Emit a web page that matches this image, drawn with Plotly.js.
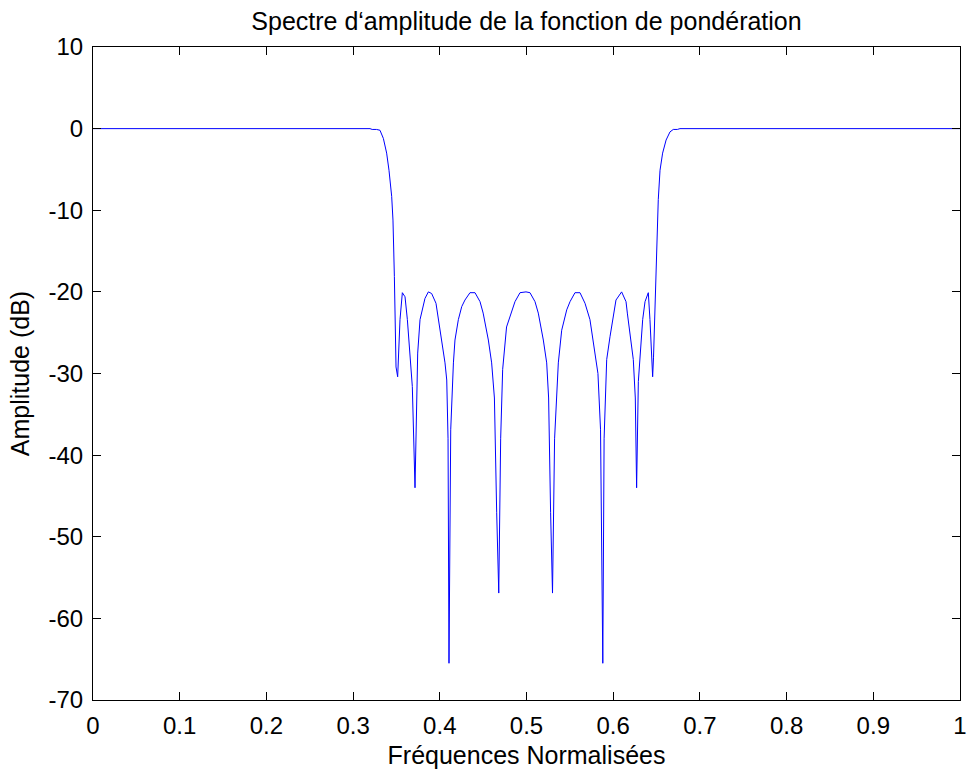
<!DOCTYPE html>
<html>
<head>
<meta charset="utf-8">
<script src="https://cdn.plot.ly/plotly-3.0.1.min.js"></script>
<style>html,body{margin:0;padding:0;background:#fff;}</style>
</head>
<body>
<div id="chart" style="width:969px;height:773px;"></div>
<script>
// Normalised frequency (x) and amplitude in dB (y)
const freq = [
  0, 0.3195, 0.322, 0.327, 0.331, 0.3349, 0.3387, 0.3414, 0.3445, 0.346, 0.3476, 0.3495,
  0.3514, 0.3541, 0.3568, 0.3599, 0.3626, 0.3656, 0.3683, 0.3714, 0.3745, 0.3772, 0.381,
  0.3829, 0.3868, 0.3906, 0.3956, 0.400, 0.406, 0.408, 0.4095, 0.4106, 0.4126, 0.4157,
  0.4175, 0.4214, 0.4253, 0.429, 0.4348, 0.4406, 0.4464, 0.450, 0.456, 0.4598, 0.463,
  0.4656, 0.468, 0.4702, 0.4725, 0.477, 0.4829, 0.4867, 0.4925, 0.4994, 0.504, 0.5098,
  0.5136, 0.5194, 0.5233, 0.5255, 0.5278, 0.530, 0.5324, 0.5367, 0.5406, 0.5464, 0.5502,
  0.5559, 0.5617, 0.5675, 0.5732, 0.577, 0.581, 0.5824, 0.5854, 0.588, 0.5895, 0.5925,
  0.5963, 0.601, 0.6032, 0.6097, 0.6148, 0.6163, 0.6202, 0.6232, 0.6255, 0.627, 0.629,
  0.631, 0.634, 0.6367, 0.6405, 0.6424, 0.6444, 0.6455, 0.6465, 0.649, 0.652, 0.654,
  0.657, 0.661, 0.6655, 0.6693, 0.674, 0.677, 1
];
const amplitude = [
  0, 0, -0.1, -0.1, -0.2, -1.2, -3.0, -5.1, -8.3, -11.2, -18.1, -29.2,
  -30.4, -23.4, -20.1, -20.6, -23.4, -27.5, -31.6, -44.0, -27.5, -23.4, -21.8,
  -20.8, -20.0, -20.2, -21.4, -24.3, -28.7, -30.8, -38.0, -65.5, -36.9, -28.7,
  -25.9, -23.4, -21.8, -21.0, -20.1, -20.1, -21.2, -22.6, -25.9, -28.7, -33.0,
  -47.0, -56.9, -38.0, -29.5, -24.3, -22.4, -21.2, -20.1, -20.0, -20.1, -21.2,
  -22.6, -25.9, -28.7, -33.0, -47.0, -56.9, -38.0, -28.7, -24.7, -22.2, -21.2,
  -20.1, -20.1, -21.4, -23.4, -25.9, -28.7, -30.0, -36.9, -65.5, -38.0, -28.3,
  -25.5, -22.4, -21.0, -20.0, -21.2, -22.6, -25.5, -28.3, -33.0, -44.0, -31.0,
  -27.5, -23.4, -21.2, -20.1, -23.4, -29.2, -30.4, -28.0, -18.0, -8.7, -5.1,
  -3.0, -1.4, -0.4, -0.1, -0.1, 0, 0
];

const xTickVals = [0, 0.1, 0.2, 0.3, 0.4, 0.5, 0.6, 0.7, 0.8, 0.9, 1];
const xTickText = ["0", "0.1", "0.2", "0.3", "0.4", "0.5", "0.6", "0.7", "0.8", "0.9", "1"];
const yTickVals = [10, 0, -10, -20, -30, -40, -50, -60, -70];
const yTickText = ["10", "0", "-10", "-20", "-30", "-40", "-50", "-60", "-70"];

const chartTitle = "Spectre d\u2018amplitude de la fonction de pondération";
const xTitle = "Fréquences Normalisées";
const yTitle = "Amplitude (dB)";

const FONT = "Liberation Sans, Arial, sans-serif";
const FS = 24;
const FT = 25;

const trace = {
  x: freq,
  y: amplitude,
  type: "scatter",
  mode: "lines",
  line: { color: "#0000ff", width: 1 },
  hoverinfo: "skip"
};

const axisCommon = {
  showgrid: false,
  zeroline: false,
  showline: true,
  linecolor: "#000",
  linewidth: 1,
  mirror: "ticks",
  ticks: "inside",
  ticklen: 8,
  tickwidth: 1,
  tickcolor: "#000",
  tickfont: { family: FONT, size: FS, color: "#000" },
  automargin: false
};

const layout = {
  width: 969,
  height: 773,
  margin: { l: 93, r: 9, t: 47, b: 73, pad: 0 },
  paper_bgcolor: "#fff",
  plot_bgcolor: "#fff",
  showlegend: false,
  font: { family: FONT, size: FS, color: "#000" },
  title: {
    text: chartTitle,
    font: { family: FONT, size: FT, color: "#000" },
    x: 0.5, xref: "paper", xanchor: "center",
    y: 1 - 21 / 773, yref: "container", yanchor: "middle"
  },
  xaxis: Object.assign({}, axisCommon, {
    range: [0, 1],
    tickmode: "array",
    tickvals: xTickVals,
    ticktext: xTickText,
    ticklabelstandoff: 4,
    title: { text: xTitle, font: { family: FONT, size: FT, color: "#000" }, standoff: 8 }
  }),
  yaxis: Object.assign({}, axisCommon, {
    range: [-70, 10],
    tickmode: "array",
    tickvals: yTickVals,
    ticktext: yTickText,
    ticklabelstandoff: 4,
    title: { text: yTitle, font: { family: FONT, size: FT, color: "#000" }, standoff: 11 }
  })
};

Plotly.newPlot("chart", [trace], layout, { staticPlot: true, displayModeBar: false });
</script>
</body>
</html>
